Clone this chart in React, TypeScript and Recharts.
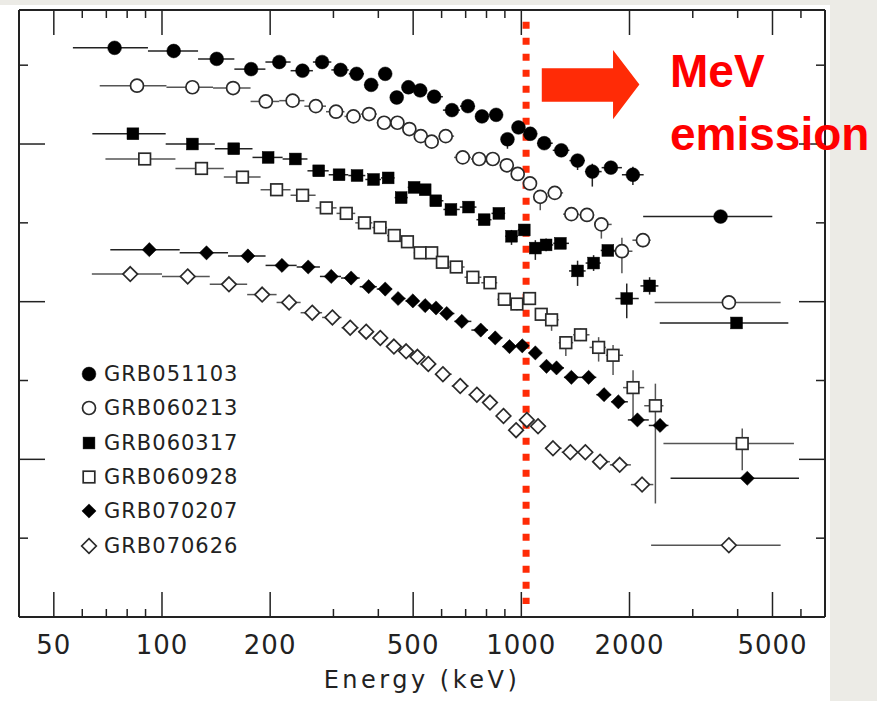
import React from "react";
import {
  ScatterChart,
  Scatter,
  ErrorBar,
  XAxis,
  YAxis,
  ReferenceLine,
  ReferenceArea,
  Legend,
} from "recharts";

// [energy keV, flux (arbitrary log units), bin low keV, bin high keV, err down, err up]
type Row = [number, number, number, number, number?, number?];

const GRB051103: Row[] = [
  [73.8, 7.22, 56.5, 91.4], [107.8, 7.18, 91.4, 126], [142, 7.08, 126, 159],
  [177, 6.95, 159, 194], [212, 7.04, 194, 228], [246, 6.93, 228, 263],
  [279, 7.04, 263, 296], [314, 6.94, 296, 331], [348, 6.89, 331, 365],
  [382, 6.75, 365, 400], [418, 6.89, 400, 434], [450, 6.59, 434, 467],
  [485, 6.72, 467, 504], [523, 6.68, 504, 547], [572, 6.6, 547, 605],
  [641, 6.43, 605, 675], [710, 6.48, 675, 743], [777, 6.35, 743, 813],
  [851, 6.37, 813, 883], [915, 6.06, 883, 948, 0.12, 0.04], [982, 6.21, 948, 1020],
  [1059, 6.13, 1020, 1107], [1158, 6.01, 1107, 1223], [1292, 5.92, 1223, 1361, 0.05, 0.05],
  [1434, 5.79, 1361, 1503, 0.12, 0.06], [1576, 5.65, 1503, 1673, 0.19, 0.1],
  [1775, 5.7, 1673, 1905, 0.08, 0.08], [2044, 5.61, 1905, 2190, 0.13, 0.1],
  [3585, 5.08, 2183, 4994],
];

const GRB060213: Row[] = [
  [85.2, 6.74, 67.1, 102.9], [121.5, 6.72, 102.9, 138.7], [157.7, 6.71, 138.7, 176.4],
  [194.5, 6.54, 176.4, 212], [231, 6.55, 212, 249], [268, 6.48, 249, 286],
  [305, 6.41, 286, 322], [341, 6.35, 322, 358], [377, 6.38, 358, 396],
  [415, 6.27, 396, 433], [452, 6.27, 433, 470], [488, 6.19, 470, 506],
  [525, 6.1, 506, 544], [563, 6.03, 544, 589], [616, 6.1, 589, 650],
  [687, 5.83, 650, 724], [763, 5.81, 724, 797], [833, 5.81, 797, 871],
  [911, 5.73, 871, 943], [977, 5.62, 943, 1016], [1057, 5.5, 1016, 1092],
  [1129, 5.33, 1092, 1183, 0.17, 0.05], [1239, 5.38, 1183, 1307],
  [1378, 5.11, 1307, 1449, 0.07, 0.05], [1523, 5.1, 1449, 1595, 0.07, 0.05],
  [1670, 4.98, 1595, 1784, 0.18, 0.07], [1905, 4.64, 1784, 2038, 0.28, 0.17],
  [2180, 4.78, 2038, 2290, 0.09, 0.07], [3781, 3.99, 2350, 5268, 0.06, 0],
];

const GRB060317: Row[] = [
  [83.0, 6.13, 64.0, 102.4], [121.5, 6.0, 102.4, 140.3], [158.4, 5.94, 140.3, 178.6],
  [197.4, 5.83, 178.6, 216.6], [235, 5.81, 216.6, 254], [273, 5.66, 254, 291],
  [311, 5.61, 291, 330], [349, 5.6, 330, 368], [388, 5.55, 368, 407],
  [426, 5.57, 407, 444], [463, 5.32, 444, 483], [503, 5.45, 483, 521],
  [540, 5.42, 521, 559], [578, 5.28, 559, 607], [637, 5.17, 607, 674],
  [713, 5.2, 674, 750], [788, 5.04, 750, 826], [866, 5.12, 826, 902],
  [939, 4.83, 902, 978, 0.11, 0.08], [1019, 4.91, 978, 1056, 0.06, 0.06],
  [1094, 4.68, 1056, 1132, 0.15, 0.1], [1172, 4.72, 1132, 1227, 0.08, 0.08],
  [1284, 4.74, 1227, 1357, 0.05, 0.05], [1434, 4.39, 1357, 1510, 0.19, 0.13],
  [1589, 4.49, 1510, 1663, 0.1, 0.1], [1741, 4.65, 1663, 1830, 0.06, 0.06],
  [1965, 4.04, 1827, 2122, 0.25, 0.19], [2275, 4.2, 2145, 2407, 0.11, 0.11],
  [3972, 3.73, 2428, 5534],
];

const GRB060928: Row[] = [
  [89.5, 5.81, 69.6, 109.0], [128.8, 5.69, 109.0, 148.6], [167.5, 5.58, 148.6, 188.1],
  [208.4, 5.42, 188.1, 227.9], [246.2, 5.35, 227.9, 267.6], [286.5, 5.19, 267.6, 306],
  [325.7, 5.12, 306, 345], [366, 5.0, 345, 385], [404.5, 4.94, 385, 423],
  [443, 4.84, 423, 462], [482, 4.76, 462, 502], [523, 4.62, 502, 543],
  [563, 4.62, 543, 583], [603, 4.5, 583, 630], [659, 4.44, 630, 695],
  [733, 4.31, 695, 774], [818, 4.24, 774, 857], [897, 4.03, 857, 934],
  [972, 3.97, 934, 1012, 0.08, 0], [1054, 4.04, 1012, 1094],
  [1136, 3.84, 1094, 1174, 0.05, 0.05], [1214, 3.77, 1174, 1271, 0.14, 0.05],
  [1330, 3.48, 1271, 1394, 0.17, 0.08], [1461, 3.58, 1394, 1548, 0.08, 0.08],
  [1641, 3.42, 1548, 1719, 0.18, 0.13], [1800, 3.32, 1719, 1919, 0.25, 0.13],
  [2046, 2.91, 1919, 2198, 0.39, 0.22], [2361, 2.68, 2198, 2486, 1.24, 0.28],
  [4119, 2.2, 2486, 5737, 0.34, 0.19],
];

const GRB070207: Row[] = [
  [92.2, 4.66, 71.8, 112.0], [133.0, 4.62, 112.0, 152.7], [173.4, 4.58, 152.7, 194.2],
  [215.7, 4.46, 194.2, 237.0], [255.2, 4.44, 237.0, 275.1], [295.8, 4.32, 275.1, 315],
  [336, 4.3, 315, 355], [376, 4.19, 355, 396], [418, 4.16, 396, 436],
  [454, 4.04, 436, 476], [499, 4.01, 476, 519], [540, 3.95, 519, 559],
  [579, 3.92, 559, 599], [620, 3.85, 599, 651], [683, 3.75, 651, 726],
  [771, 3.64, 726, 808], [846, 3.54, 808, 886], [927, 3.43, 886, 966],
  [1006, 3.44, 966, 1049], [1094, 3.35, 1049, 1134], [1175, 3.18, 1134, 1213],
  [1253, 3.16, 1213, 1314], [1378, 3.04, 1314, 1456], [1539, 3.04, 1456, 1617],
  [1699, 2.82, 1617, 1779], [1862, 2.73, 1779, 1979], [2104, 2.5, 1979, 2263],
  [2433, 2.43, 2263, 2567], [4254, 1.76, 2602, 5925],
];

const GRB070626: Row[] = [
  [81.6, 4.35, 63.8, 100], [117.9, 4.32, 100, 135.8], [153.6, 4.22, 135.8, 172.6],
  [190.0, 4.09, 172.6, 208.4], [225.8, 3.99, 208.4, 243.1], [261.9, 3.86, 243.1, 279],
  [298, 3.8, 279, 316], [334, 3.67, 316, 352], [370, 3.62, 352, 387],
  [405, 3.54, 387, 423], [442, 3.43, 423, 460], [478, 3.37, 460, 496],
  [514, 3.3, 496, 532], [551, 3.21, 532, 577], [605, 3.08, 577, 640],
  [676, 2.93, 640, 713], [752, 2.82, 713, 784], [818, 2.72, 784, 854],
  [892, 2.55, 854, 929], [967, 2.37, 929, 1001], [1036, 2.5, 1001, 1074],
  [1113, 2.42, 1074, 1168], [1225, 2.14, 1168, 1295], [1369, 2.09, 1295, 1436],
  [1507, 2.09, 1436, 1580], [1656, 1.97, 1580, 1764], [1878, 1.93, 1764, 2018],
  [2168, 1.68, 2018, 2330, 0.08, 0], [3781, 0.91, 2297, 5268],
];

const xTicks = [40, 50, 60, 70, 80, 90, 100, 200, 300, 400, 500, 600, 700, 800, 900, 1000, 2000, 3000, 4000, 5000, 6000];
const xLabels = [50, 100, 200, 500, 1000, 2000, 5000];
const yTicks = [1, 2, 3, 4, 5, 6, 7];
const yLong = [2, 4, 6];

const mevEdge = 1031; // keV, dotted line
const arrowBox = { x1: 1140, x2: 2131, y1: 6.314, y2: 7.193 };

type Kind = "circle" | "circleOpen" | "square" | "squareOpen" | "diamond" | "diamondOpen";

const series: { name: string; rows: Row[]; kind: Kind }[] = [
  { name: "GRB051103", rows: GRB051103, kind: "circle" },
  { name: "GRB060213", rows: GRB060213, kind: "circleOpen" },
  { name: "GRB060317", rows: GRB060317, kind: "square" },
  { name: "GRB060928", rows: GRB060928, kind: "squareOpen" },
  { name: "GRB070207", rows: GRB070207, kind: "diamond" },
  { name: "GRB070626", rows: GRB070626, kind: "diamondOpen" },
];

const INK = "#222";
const RED = "#ff2b06";
const font = "'DejaVu Sans', sans-serif";

function Marker({ kind, cx, cy }: { kind: Kind; cx: number; cy: number }) {
  const open = kind.endsWith("Open");
  const fill = open ? "#fff" : "#000";
  const stroke = open ? "#2a2a2a" : "#000";
  const sw = open ? 1.7 : 0.5;
  if (kind.startsWith("circle")) {
    return <circle cx={cx} cy={cy} r={open ? 6.5 : 6.9} fill={fill} stroke={stroke} strokeWidth={sw} />;
  }
  if (kind.startsWith("square")) {
    const h = open ? 5.8 : 5.9;
    return <rect x={cx - h} y={cy - h} width={2 * h} height={2 * h} fill={fill} stroke={stroke} strokeWidth={sw} />;
  }
  const d = open ? 7.3 : 7.1;
  return (
    <path
      d={`M${cx},${cy - d}L${cx + d},${cy}L${cx},${cy + d}L${cx - d},${cy}Z`}
      fill={fill}
      stroke={stroke}
      strokeWidth={sw}
    />
  );
}

const BottomTick = (p: any) => {
  const v = p.payload.value;
  const major = xLabels.includes(v);
  return (
    <g>
      <line x1={p.x} y1={p.y} x2={p.x} y2={p.y - (major ? 25 : 8)} stroke={INK} strokeWidth={1.5} />
      {major && (
        <text x={p.x} y={p.y + 37} textAnchor="middle" fontFamily={font} fontSize={26} letterSpacing={1} fill={INK}>
          {v}
        </text>
      )}
    </g>
  );
};

const TopTick = (p: any) => {
  const major = xLabels.includes(p.payload.value);
  return <line x1={p.x} y1={p.y} x2={p.x} y2={p.y + (major ? 25 : 8)} stroke={INK} strokeWidth={1.5} />;
};

const LeftTick = (p: any) => {
  const long = yLong.includes(p.payload.value);
  return <line x1={p.x} y1={p.y} x2={p.x + (long ? 26 : 9)} y2={p.y} stroke={INK} strokeWidth={1.5} />;
};

const RightTick = (p: any) => {
  const long = yLong.includes(p.payload.value);
  return <line x1={p.x} y1={p.y} x2={p.x - (long ? 26 : 9)} y2={p.y} stroke={INK} strokeWidth={1.5} />;
};

const AxisTitle = (p: any) => {
  const vb = p.viewBox;
  return (
    <text
      x={vb.x + vb.width / 2}
      y={vb.y + vb.height - 13}
      textAnchor="middle"
      fontFamily={font}
      fontSize={24}
      letterSpacing={3.5}
      fill={INK}
    >
      Energy (keV)
    </text>
  );
};

const Arrow = (p: any) => {
  const { x, y, width: w, height: h } = p;
  const b = x + 0.73 * w;
  const pts = [
    [x, y + 0.264 * h], [b, y + 0.264 * h], [b, y], [x + w, y + 0.5 * h],
    [b, y + h], [b, y + 0.746 * h], [x, y + 0.746 * h],
  ].map((q) => q.join(",")).join(" ");
  return <polygon points={pts} fill={RED} />;
};

function LegendBox() {
  return (
    <div>
      {series.map((s) => (
        <div key={s.name} style={{ display: "flex", alignItems: "center", height: 34.3 }}>
          <svg width={18} height={18}>
            <Marker kind={s.kind} cx={9} cy={9} />
          </svg>
          <span style={{ marginLeft: 6, fontFamily: font, fontSize: 21, letterSpacing: 1, color: INK }}>
            {s.name}
          </span>
        </div>
      ))}
    </div>
  );
}

export default function App() {
  const axisLine = { stroke: INK, strokeWidth: 2 };
  return (
    <div style={{ position: "relative", width: 877, height: 701, background: "#ecebe6", overflow: "hidden" }}>
      <style>{"body{margin:0}"}</style>
      <div style={{ position: "absolute", left: 0, top: 5, width: 830, height: 696, background: "#fff" }} />
      <div style={{ position: "absolute", left: 0, top: 0 }}>
        <ScatterChart width={877} height={701} margin={{ top: 9, right: 51, bottom: 0, left: 18 }}>
          <XAxis
            type="number"
            dataKey="x"
            scale="log"
            domain={[40, 7000]}
            allowDataOverflow
            ticks={xTicks}
            interval={0}
            height={84}
            tickSize={0}
            tickMargin={0}
            tickLine={false}
            axisLine={axisLine}
            tick={<BottomTick />}
            label={<AxisTitle />}
          />
          <XAxis
            xAxisId="top"
            orientation="top"
            type="number"
            dataKey="x"
            scale="log"
            domain={[40, 7000]}
            allowDataOverflow
            ticks={xTicks}
            interval={0}
            height={1}
            tickSize={0}
            tickMargin={0}
            tickLine={false}
            axisLine={axisLine}
            tick={<TopTick />}
          />
          <YAxis
            type="number"
            dataKey="y"
            domain={[0, 7.7]}
            allowDataOverflow
            ticks={yTicks}
            interval={0}
            width={1}
            tickSize={0}
            tickMargin={0}
            tickLine={false}
            axisLine={axisLine}
            tick={<LeftTick />}
          />
          <YAxis
            yAxisId="right"
            orientation="right"
            type="number"
            dataKey="y"
            domain={[0, 7.7]}
            allowDataOverflow
            ticks={yTicks}
            interval={0}
            width={1}
            tickSize={0}
            tickMargin={0}
            tickLine={false}
            axisLine={axisLine}
            tick={<RightTick />}
          />
          {series.map((s) => {
            const open = s.kind.endsWith("Open");
            const data = s.rows.map(([e, f, lo, hi, dn = 0, up = 0]) => ({
              x: e,
              y: f,
              ex: [e - lo, hi - e],
              ey: [dn, up],
            }));
            return (
              <Scatter
                key={s.name}
                name={s.name}
                data={data}
                isAnimationActive={false}
                shape={(p: any) => <Marker kind={s.kind} cx={p.cx} cy={p.cy} />}
              >
                <ErrorBar dataKey="ex" direction="x" width={0} stroke={open ? "#555" : "#222"} strokeWidth={1.5} isAnimationActive={false} />
                <ErrorBar dataKey="ey" direction="y" width={0} stroke={open ? "#555" : "#222"} strokeWidth={1.5} isAnimationActive={false} />
              </Scatter>
            );
          })}
          <ReferenceLine
            segment={[{ x: mevEdge, y: 7.552 }, { x: mevEdge, y: 0.165 }]}
            stroke={RED}
            strokeWidth={7}
            strokeDasharray="7 9"
          />
          <ReferenceArea
            x1={arrowBox.x1}
            x2={arrowBox.x2}
            y1={arrowBox.y1}
            y2={arrowBox.y2}
            shape={<Arrow />}
          />
          <Legend
            layout="vertical"
            align="center"
            verticalAlign="middle"
            wrapperStyle={{ left: 80, top: 357, width: 200, height: 210 }}
            content={() => <LegendBox />}
          />
        </ScatterChart>
      </div>
      <svg width={877} height={701} style={{ position: "absolute", left: 0, top: 0, pointerEvents: "none" }}>
        <text x={670} y={87} fontFamily="'Liberation Sans', Arial, sans-serif" fontWeight={700} fontSize={46} fill="#ff0000">
          MeV
        </text>
        <text x={670} y={150} fontFamily="'Liberation Sans', Arial, sans-serif" fontWeight={700} fontSize={46} fill="#ff0000">
          emission
        </text>
      </svg>
    </div>
  );
}
